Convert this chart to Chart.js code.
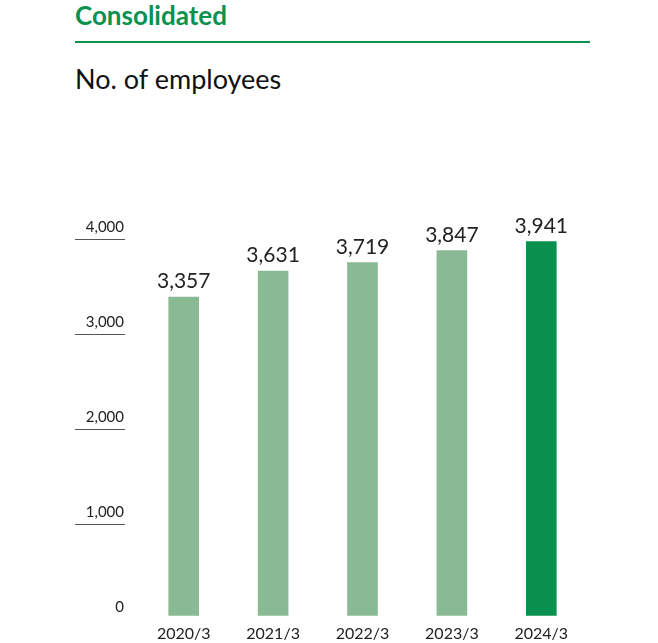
<!DOCTYPE html>
<html lang="en">
  <head>
    <meta charset="UTF-8" />
    <title>No. of employees</title>
    <script src="https://cdn.jsdelivr.net/npm/chart.js"></script>
    <style>
      body { margin: 0; background: #fff; font-family: Lato, "Noto Sans", sans-serif; }
      .wrap { position: relative; width: 658px; height: 643px; }
      .head { position: absolute; left: 75px; top: 0; width: 515px; border-bottom: 2px solid #0a9150;
        color: #0a9150; font-weight: bold; font-size: 26px; line-height: 30px; padding-bottom: 11px; }
      .sub { position: absolute; left: 75px; top: 62px; font-size: 27px; color: #111; }
      canvas { position: absolute; left: 0; top: 0; }
    </style>
  </head>
  <body>
    <div class="wrap">
      <div class="head">Consolidated</div>
      <div class="sub">No. of employees</div>
      <canvas id="chart" width="658" height="643"></canvas>
    </div>
    <script>
      const categories = ["2020/3", "2021/3", "2022/3", "2023/3", "2024/3"];
      const employees = [3357, 3631, 3719, 3847, 3941];
      const yTicks = [0, 1000, 2000, 3000, 4000];
      const barColors = ["#8aba94", "#8aba94", "#8aba94", "#8aba94", "#0a9150"];

      const overlay = {
        id: "overlay",
        afterDraw(chart) {
          const ctx = chart.ctx;
          const y = chart.scales.y;
          ctx.save();
          ctx.font = "15px Lato, sans-serif";
          ctx.fillStyle = "#222";
          ctx.strokeStyle = "#555";
          ctx.lineWidth = 1;
          ctx.textAlign = "right";
          ctx.textBaseline = "bottom";
          yTicks.forEach((t) => {
            const py = Math.round(y.getPixelForValue(t)) + 0.5;
            ctx.fillText(t.toLocaleString("en-US"), 124, py - 2);
            if (t > 0) {
              ctx.beginPath();
              ctx.moveTo(75, py + 3);
              ctx.lineTo(125, py + 3);
              ctx.stroke();
            }
          });
          const meta = chart.getDatasetMeta(0);
          ctx.font = "21px Lato, sans-serif";
          ctx.textAlign = "center";
          meta.data.forEach((bar, i) => {
            ctx.fillText(employees[i].toLocaleString("en-US"), bar.x, bar.y - 5);
          });
          ctx.restore();
        },
      };

      new Chart(document.getElementById("chart"), {
        type: "bar",
        data: {
          labels: categories,
          datasets: [{ data: employees, backgroundColor: barColors, barThickness: 30 }],
        },
        options: {
          responsive: false,
          animation: false,
          layout: { padding: { top: 236, left: 139, right: 72, bottom: 0 } },
          plugins: { legend: { display: false }, tooltip: { enabled: false } },
          scales: {
            y: { min: 0, max: 4000, display: false },
            x: {
              grid: { display: false },
              border: { display: false },
              ticks: { color: "#222", font: { size: 16, family: "Lato" }, padding: 0 },
            },
          },
        },
        plugins: [overlay],
      });
    </script>
  </body>
</html>
